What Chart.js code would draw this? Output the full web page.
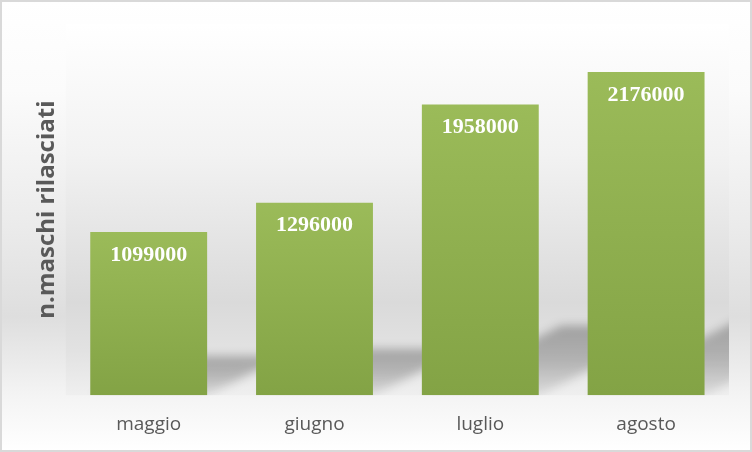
<!DOCTYPE html>
<html>
<head>
<meta charset="utf-8">
<script src="https://cdn.jsdelivr.net/npm/chart.js@4/dist/chart.umd.min.js"></script>
<style>
  html, body { margin: 0; padding: 0; background: #fff; }
  #wrap { width: 752px; height: 452px; }
</style>
</head>
<body>
<div id="wrap"><canvas id="chart"></canvas></div>
<script>
// data
const months = ['maggio', 'giugno', 'luglio', 'agosto'];
const maschi = [1099000, 1296000, 1958000, 2176000];
const yTitle = 'n.maschi rilasciati';
const yMax = 2500000;

// page background: soft grey gradient, a bit darker inside the plot area
const backgroundPlugin = {
  id: 'background',
  beforeDraw(chart) {
    const { ctx, width, height, chartArea: a } = chart;
    ctx.save();
    let g = ctx.createLinearGradient(0, 0, 0, height);
    g.addColorStop(0, '#ffffff');
    g.addColorStop(0.2, '#fbfbfb');
    g.addColorStop(0.5, '#ebebeb');
    g.addColorStop(0.7, '#dedede');
    g.addColorStop(0.875, '#f4f4f4');
    g.addColorStop(1, '#ffffff');
    ctx.fillStyle = g;
    ctx.fillRect(0, 0, width, height);

    g = ctx.createLinearGradient(0, a.top, 0, a.bottom);
    g.addColorStop(0, '#ffffff');
    g.addColorStop(0.35, '#f2f2f2');
    g.addColorStop(0.75, '#dadada');
    g.addColorStop(0.88, '#e2e2e2');
    g.addColorStop(1, '#efefef');
    ctx.fillStyle = g;
    ctx.fillRect(a.left, a.top, a.right - a.left, a.bottom - a.top);
    ctx.restore();
  },
  afterDraw(chart) {
    const { ctx, width, height } = chart;
    ctx.save();
    ctx.strokeStyle = '#d9d9d9';
    ctx.lineWidth = 2;
    ctx.strokeRect(1, 1, width - 2, height - 2);
    ctx.restore();
  }
};

// perspective shadow cast up and to the right behind each bar
const shadowPlugin = {
  id: 'barShadow',
  beforeDatasetsDraw(chart) {
    const { ctx, chartArea: a } = chart;
    const bars = chart.getDatasetMeta(0).data;
    ctx.save();
    ctx.beginPath();
    ctx.rect(a.left, a.top, a.right - a.left, a.bottom - a.top);
    ctx.clip();
    ctx.filter = 'blur(5px)';
    bars.forEach(bar => {
      const { x, y, base, width } = bar.getProps(['x', 'y', 'base', 'width']);
      const l = x - width / 2, r = x + width / 2;
      const h = (base - y) * 0.24;
      const dx = h * 2;
      const g = ctx.createLinearGradient(0, base - h, 0, base);
      g.addColorStop(0, 'rgba(0,0,0,0.28)');
      g.addColorStop(0.5, 'rgba(0,0,0,0.22)');
      g.addColorStop(1, 'rgba(0,0,0,0.08)');
      ctx.fillStyle = g;
      ctx.beginPath();
      ctx.moveTo(l, base);
      ctx.lineTo(r, base);
      ctx.lineTo(r + dx, base - h);
      ctx.lineTo(l + dx, base - h);
      ctx.closePath();
      ctx.fill();
    });
    ctx.restore();
  }
};

// white value labels inside the top of each bar
const labelPlugin = {
  id: 'valueLabels',
  afterDatasetsDraw(chart) {
    const { ctx } = chart;
    const meta = chart.getDatasetMeta(0);
    ctx.save();
    ctx.fillStyle = '#ffffff';
    ctx.font = 'bold 22px "Liberation Serif"';
    ctx.textAlign = 'center';
    ctx.textBaseline = 'middle';
    meta.data.forEach((bar, i) => {
      ctx.fillText(String(maschi[i]), bar.x, bar.y + 23);
    });
    ctx.restore();
  }
};

function barGradient(context) {
  const chart = context.chart;
  if (!chart.chartArea) return '#9bbb59';
  const yScale = chart.scales.y;
  const top = yScale.getPixelForValue(context.raw);
  const bottom = yScale.getPixelForValue(0);
  const g = chart.ctx.createLinearGradient(0, top, 0, bottom);
  g.addColorStop(0, '#9bbb59');
  g.addColorStop(1, '#83a345');
  return g;
}

new Chart(document.getElementById('chart'), {
  type: 'bar',
  data: {
    labels: months,
    datasets: [{
      data: maschi,
      backgroundColor: barGradient,
      borderWidth: 0,
      barPercentage: 0.705,
      categoryPercentage: 1
    }]
  },
  options: {
    responsive: true,
    maintainAspectRatio: false,
    devicePixelRatio: 1,
    animation: false,
    layout: { padding: { left: 33, right: 23, top: 24, bottom: -2 } },
    plugins: {
      legend: { display: false },
      tooltip: { enabled: false }
    },
    scales: {
      x: {
        grid: { display: false, drawTicks: false },
        border: { display: false },
        ticks: {
          color: '#595959',
          padding: 18,
          font: { family: '"Open Sans"', size: 19 }
        }
      },
      y: {
        min: 0,
        max: yMax,
        grid: { display: false, drawTicks: false },
        border: { display: false },
        ticks: { display: false },
        title: {
          display: true,
          text: yTitle,
          color: '#595959',
          padding: { top: 0, bottom: 4 },
          font: { family: '"Open Sans"', size: 24, weight: 'bold' }
        }
      }
    }
  },
  plugins: [backgroundPlugin, shadowPlugin, labelPlugin]
});
</script>
</body>
</html>
